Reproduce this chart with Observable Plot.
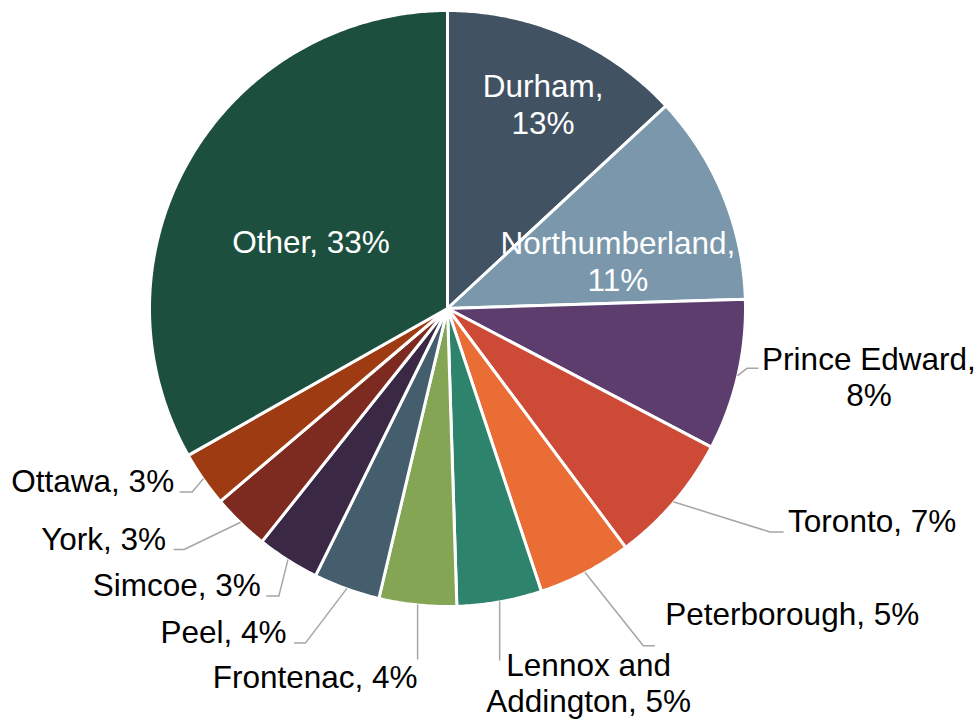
<!DOCTYPE html>
<html><head><meta charset="utf-8">
<script src="https://cdn.jsdelivr.net/npm/d3@7"></script>
<script src="https://cdn.jsdelivr.net/npm/@observablehq/plot@0.6"></script>
<style>body{margin:0;background:#fff;}</style>
</head><body><div id="chart"></div>
<script>
// ---- data ----
const regions = ["Durham", "Northumberland", "Prince Edward", "Toronto", "Peterborough", "Lennox and Addington", "Frontenac", "Peel", "Simcoe", "York", "Ottawa", "Other"];
const labelNames = ["Durham", "Northumberland", "Prince Edward", "Toronto", "Peterborough", "Lennox and\nAddington", "Frontenac", "Peel", "Simcoe", "York", "Ottawa", "Other"];
const shares = [13.1, 11.4, 8.2, 7.1, 5.1, 4.6, 4.2, 3.6, 3.4, 3.1, 3.0, 33.2];
const colors = ["#415262", "#7a97ab", "#5c3d6e", "#cc4a36", "#e96d35", "#2e836c", "#84a654", "#455e6e", "#3a2844", "#7d2b20", "#9e3b12", "#1d4f3f"];

// ---- layout (pixel offsets) ----
const R = 298; // px per unit of radius
const insideLayout = {
  "Durham": {r: 0.6, tx: 24, ty: -11, wrap: true},
  "Northumberland": {r: 0.6, tx: 5, ty: 50, wrap: true},
  "Other": {r: 0.6, tx: 18, ty: 35, wrap: false}
};
const outsideLayout = {
  "Prince Edward": {ex: 9, ey: -7, h: 11, tx: 111, ty: 38, anchor: "middle", wrap: true},
  "Toronto": {ex: 96, ey: 30, h: 13, tx: 5, ty: 0, anchor: "start", wrap: false},
  "Peterborough": {ex: 58, ey: 73, h: 11, tx: 11, ty: -21, anchor: "start", wrap: false},
  "Lennox and Addington": {ex: 0, ey: 58, h: 0, tx: 89, ty: 52, anchor: "middle", wrap: false},
  "Frontenac": {ex: 0, ey: 54, h: 0, tx: 0, ty: 29, anchor: "end", wrap: false},
  "Peel": {ex: -41, ey: 54, h: -11, tx: -8, ty: 0, anchor: "end", wrap: false},
  "Simcoe": {ex: -9, ey: 36, h: -12, tx: -6, ty: 0, anchor: "end", wrap: false},
  "York": {ex: -56, ey: 27, h: -10, tx: -8, ty: 0, anchor: "end", wrap: false},
  "Ottawa": {ex: -11, ey: 13, h: -12, tx: -6, ty: 0, anchor: "end", wrap: false}
};

// ---- derived geometry ----
const total = d3.sum(shares);
const polar = (r, a) => [r * Math.sin(a), r * Math.cos(a)];
let acc = 0;
const slices = regions.map((name, i) => {
  const a0 = acc / total * 2 * Math.PI;
  acc += shares[i];
  const a1 = acc / total * 2 * Math.PI;
  const pct = Math.round(shares[i] / total * 100 + 1e-9) + "%";
  return {name, i, a0, a1, mid: (a0 + a1) / 2, labelName: labelNames[i], pct};
});
const labelText = (s, wrap) => s.labelName + "," + (wrap ? "\n" : " ") + s.pct;

const piePts = slices.flatMap(s => {
  const n = Math.max(2, Math.ceil((s.a1 - s.a0) / (Math.PI / 360)));
  const pts = [{name: s.name, x: 0, y: 0}];
  for (let k = 0; k <= n; k++) {
    const [x, y] = polar(1, s.a0 + (s.a1 - s.a0) * k / n);
    pts.push({name: s.name, x, y});
  }
  pts.push({name: s.name, x: 0, y: 0});
  return pts;
});

const leaderPts = [];
const outLabels = [];
for (const s of slices) {
  const L = outsideLayout[s.name];
  if (!L) continue;
  const [sx, sy] = polar(1.0, s.mid);
  const ex = sx + L.ex / R, ey = sy - L.ey / R;
  const fx = ex + L.h / R, fy = ey;
  leaderPts.push({name: s.name, x: sx, y: sy}, {name: s.name, x: ex, y: ey}, {name: s.name, x: fx, y: fy});
  outLabels.push({name: s.name, x: fx + L.tx / R, y: fy - L.ty / R, text: labelText(s, L.wrap), anchor: L.anchor});
}
const inLabels = slices.filter(s => insideLayout[s.name]).map(s => {
  const L = insideLayout[s.name];
  const [px, py] = polar(L.r, s.mid);
  return {name: s.name, x: px + L.tx / R, y: py - L.ty / R, text: labelText(s, L.wrap)};
});

const font = "'Liberation Sans', Arial, sans-serif";
const textOpts = {fontSize: 31.5, fontFamily: font, lineHeight: 1.15, lineAnchor: "bottom"};

const chart = Plot.plot({
  width: 980, height: 720,
  marginLeft: 149, marginRight: 235, marginTop: 10, marginBottom: 114,
  x: {domain: [-1, 1], axis: null},
  y: {domain: [-1, 1], axis: null},
  color: {domain: regions, range: colors},
  marks: [
    Plot.line(piePts, {x: "x", y: "y", z: "name", fill: "name", stroke: "white", strokeWidth: 3, strokeLinejoin: "round"}),
    Plot.line(leaderPts, {x: "x", y: "y", z: "name", stroke: "#a6a6a6", strokeWidth: 1.5}),
    Plot.text(inLabels, {x: "x", y: "y", text: "text", fill: "white", textAnchor: "middle", ...textOpts}),
    ...["start", "middle", "end"].map(a =>
      Plot.text(outLabels.filter(d => d.anchor === a), {x: "x", y: "y", text: "text", fill: "black", textAnchor: a, ...textOpts}))
  ]
});
document.getElementById("chart").appendChild(chart);
</script>
</body></html>
